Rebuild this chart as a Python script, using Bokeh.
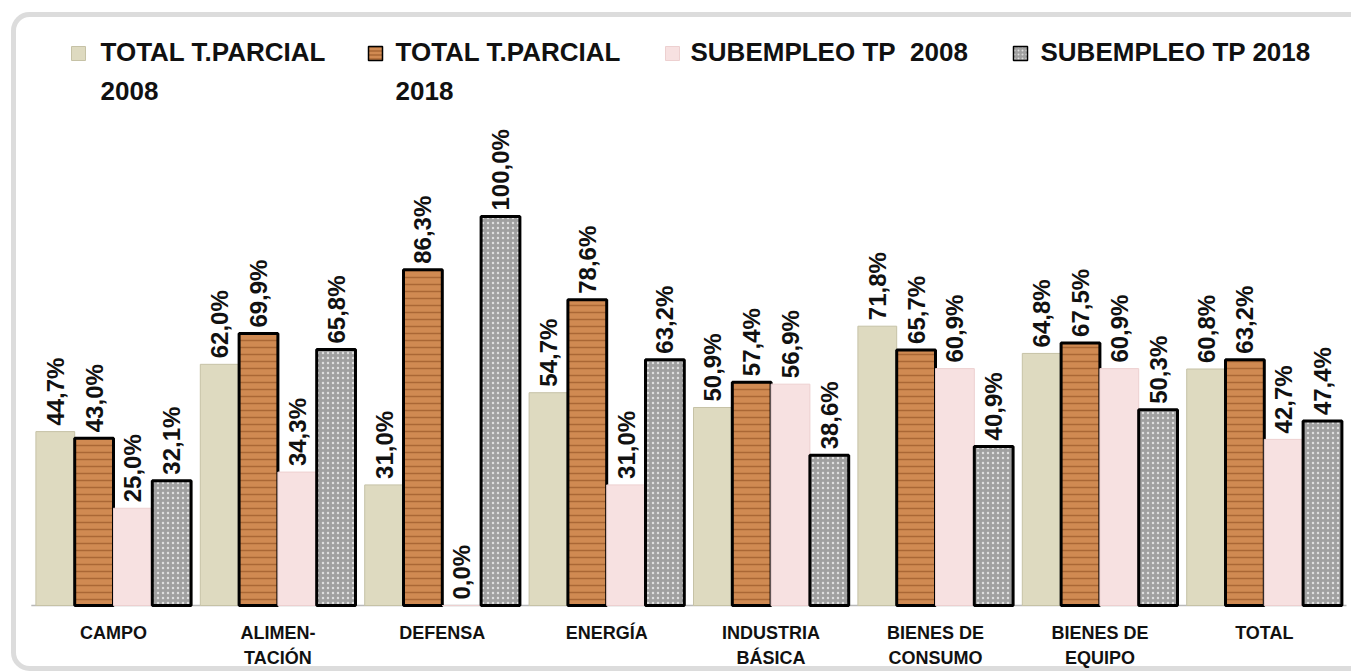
import math
from bokeh.plotting import figure
from bokeh.models import ColumnDataSource, BoxAnnotation
from bokeh.core.properties import value
from bokeh.embed import file_html
from bokeh.resources import INLINE

categories = ["CAMPO", "ALIMEN-\nTACIÓN", "DEFENSA", "ENERGÍA", "INDUSTRIA\nBÁSICA",
              "BIENES DE\nCONSUMO", "BIENES DE\nEQUIPO", "TOTAL"]
legend_line1 = ["TOTAL T.PARCIAL", "TOTAL T.PARCIAL", "SUBEMPLEO TP\u00a0 2008", "SUBEMPLEO TP 2018"]
legend_line2 = ["2008", "2018", "", ""]
total_tp_2008 = [44.7, 62.0, 31.0, 54.7, 50.9, 71.8, 64.8, 60.8]
total_tp_2018 = [43.0, 69.9, 86.3, 78.6, 57.4, 65.7, 67.5, 63.2]
subempleo_2008 = [25.0, 34.3, 0.0, 31.0, 56.9, 60.9, 60.9, 42.7]
subempleo_2018 = [32.1, 65.8, 100.0, 63.2, 38.6, 40.9, 50.3, 47.4]

series = [total_tp_2008, total_tp_2018, subempleo_2008, subempleo_2018]

FONT = "Liberation Sans"

W, H = 1351, 671
# pixel geometry
cat_px = 164.4
first_center = 113.0
px_per_unit = 3.89
base_px_from_bottom = 66.0

x0 = -first_center / cat_px
x1 = (W - first_center) / cat_px
y0 = -base_px_from_bottom / px_per_unit
y1 = (H - base_px_from_bottom) / px_per_unit

p = figure(width=W, height=H, x_range=(x0, x1), y_range=(y0, y1),
           output_backend="svg", toolbar_location=None,
           min_border=0, min_border_left=0, min_border_right=0,
           min_border_top=0, min_border_bottom=0)
p.axis.visible = False
p.grid.visible = False
p.outline_line_color = None
p.background_fill_color = "white"
p.border_fill_color = "white"

# rounded outer frame
frame = BoxAnnotation(left=x0 + 13 / cat_px, right=x1 + 2.0,
                      top=y1 - 14 / px_per_unit, bottom=y0 + 3 / px_per_unit,
                      fill_alpha=0, line_color="#8a8a8a", line_width=5,
                      border_radius=16, level="underlay")
p.add_layout(frame)

n = len(categories)
xs = list(range(n))
bw = 0.236
offsets = [-1.5 * bw, -0.5 * bw, 0.5 * bw, 1.5 * bw]

styles = [
    dict(fill_color="#DEDAC0", line_color="#C6C2A6", line_width=1),
    dict(fill_color="#D08A52", line_color="black", line_width=3,
         hatch_pattern="horizontal_line", hatch_color="#8A4A1E",
         hatch_alpha=0.55, hatch_scale=7, hatch_weight=1.5),
    dict(fill_color="#F7E1E1", line_color="#EDD0D0", line_width=1),
    dict(fill_color="#A0A0A0", line_color="black", line_width=3,
         hatch_pattern="dot", hatch_color="#EDEDED",
         hatch_alpha=0.8, hatch_scale=5, hatch_weight=1.5),
]

# baseline
p.line([-0.5, n - 0.5], [0, 0], line_color="#b8b8b8", line_width=1.5)

for k, (vals, st) in enumerate(zip(series, styles)):
    src = ColumnDataSource(dict(
        x=[xi + offsets[k] for xi in xs],
        top=vals,
        label=[("%.1f%%" % v).replace(".", ",") for v in vals],
    ))
    p.vbar(x="x", top="top", bottom=0, width=bw, source=src, **st)
    p.text(x="x", y="top", text="label", source=src, angle=math.pi / 2,
           text_align="left", text_baseline="middle", y_offset=-6,
           text_font=value(FONT), text_font_style="bold",
           text_font_size="24px", text_color="#111111")

# category labels
csrc = ColumnDataSource(dict(x=xs, y=[0] * n, t=categories))
p.text(x="x", y="y", text="t", source=csrc, text_align="center",
       text_baseline="top", y_offset=17, text_font=value(FONT),
       text_font_style="bold", text_font_size="18px", text_color="#111111",
       text_line_height=1.25)

# legend (drawn at the top of the frame)
leg_marker_px = [78, 375, 672, 1020]
leg_text_px = [100, 395, 690, 1040]
row1_px, row2_px = 51, 90
lx_m = [x0 + v / cat_px for v in leg_marker_px]
lx_t = [x0 + v / cat_px for v in leg_text_px]
ly1 = y1 - row1_px / px_per_unit
ly2 = y1 - row2_px / px_per_unit
for k, st in enumerate(styles):
    mst = {kk: vv for kk, vv in st.items() if kk != "line_width"}
    mst["line_width"] = 1.5 if st["line_color"] == "black" else 1
    if "hatch_scale" in mst:
        mst["hatch_scale"] = 4
    p.scatter([lx_m[k]], [ly1 - 2 / px_per_unit], marker="square", size=14, **mst)
p.text(x=lx_t, y=[ly1] * 4, text=legend_line1, text_align="left",
       text_baseline="middle", text_font=value(FONT), text_font_style="bold",
       text_font_size="26px", text_color="#111111")
p.text(x=lx_t, y=[ly2] * 4, text=legend_line2, text_align="left",
       text_baseline="middle", text_font=value(FONT), text_font_style="bold",
       text_font_size="26px", text_color="#111111")

open("out.html", "w").write(file_html(p, INLINE))
